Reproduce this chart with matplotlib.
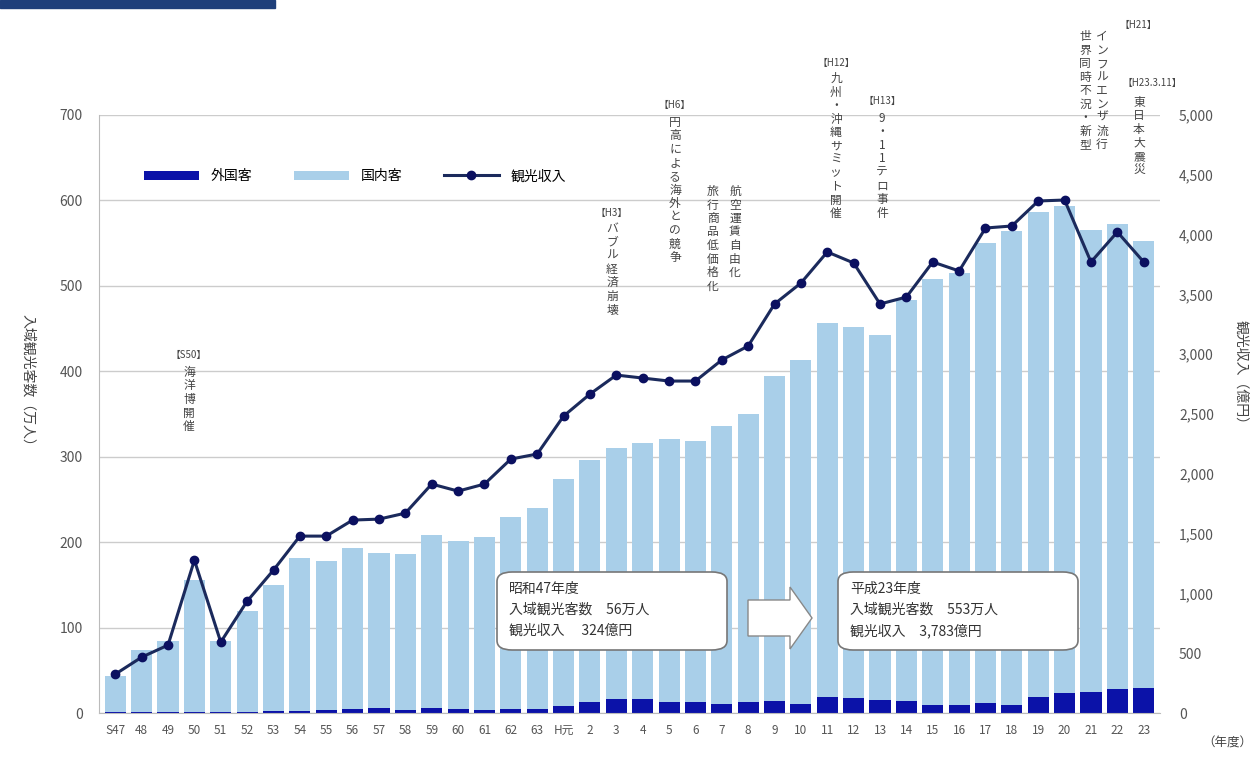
import numpy as np
import matplotlib.pyplot as plt
from matplotlib.patches import FancyBboxPatch, FancyArrow, Rectangle

plt.rcParams['font.family'] = ['Noto Sans CJK JP', 'DejaVu Sans']

# 年度ラベル
years = ['S47', '48', '49', '50', '51', '52', '53', '54', '55', '56', '57', '58',
         '59', '60', '61', '62', '63', 'H元', '2', '3', '4', '5', '6', '7', '8',
         '9', '10', '11', '12', '13', '14', '15', '16', '17', '18', '19', '20',
         '21', '22', '23']

# 入域観光客数 合計（万人）
total = [44, 74, 84, 156, 84, 120, 150, 181, 178, 193, 187, 186, 208, 201, 206,
         230, 240, 274, 296, 310, 316, 321, 318, 336, 350, 395, 413, 456, 452,
         443, 483, 508, 515, 550, 564, 587, 594, 565, 572, 553]

# 外国客（万人）
foreign = [1, 1, 1, 1, 1, 1, 2, 3, 4, 5, 6, 4, 6, 5, 4, 5, 5, 8, 13, 17, 17,
           13, 13, 11, 13, 14, 11, 19, 18, 16, 14, 9, 10, 12, 9, 19, 24, 25,
           28, 30]

# 観光収入（億円）
income = [326, 468, 569, 1279, 594, 936, 1196, 1480, 1480, 1614, 1622, 1672,
          1915, 1856, 1915, 2124, 2166, 2483, 2667, 2826, 2801, 2776, 2776,
          2952, 3069, 3420, 3595, 3855, 3763, 3420, 3478, 3771, 3696, 4055,
          4072, 4281, 4289, 3771, 4022, 3771]

domestic = np.array(total) - np.array(foreign)
x = np.arange(len(years))

fig = plt.figure(figsize=(12.59, 7.82), dpi=100)
ax = fig.add_axes([0.079, 0.088, 0.842, 0.765])
ax2 = ax.twinx()

ax.bar(x, foreign, width=0.8, color='#0b12a8', label='外国客', zorder=2)
ax.bar(x, domestic, width=0.8, bottom=foreign, color='#a9cfe9', label='国内客', zorder=2)
ax2.plot(x, income, color='#1b2a5c', lw=2.2, marker='o', ms=6,
         mfc='#0b1060', mec='#0b1060', label='観光収入', zorder=3)

ax.set_ylim(0, 700)
ax2.set_ylim(0, 5000)
ax.set_xlim(-0.6, len(years) - 0.4)
ax.set_yticks(range(0, 701, 100))
ax2.set_yticks(range(0, 5001, 500))
ax2.set_yticklabels(['0'] + ['{:,}'.format(v) for v in range(500, 5001, 500)])
ax.set_xticks(x)
ax.set_xticklabels(years, fontsize=8.5, color='#555555')
ax.tick_params(axis='y', labelsize=10, colors='#555555', length=0, pad=12)
ax2.tick_params(axis='y', labelsize=10, colors='#555555', length=0, pad=14)
ax.tick_params(axis='x', length=0, pad=8)
ax.grid(axis='y', color='#cccccc', lw=1, zorder=0)
ax.set_axisbelow(True)
for s in ['top', 'right']:
    ax.spines[s].set_visible(False)
    ax2.spines[s].set_visible(False)
ax.spines['left'].set_color('#bbbbbb')
ax.spines['bottom'].set_color('#bbbbbb')
ax2.spines['left'].set_visible(False)
ax2.spines['bottom'].set_visible(False)

fig.text(0.022, 0.51, '入域観光客数（万人）', rotation=-90, fontsize=10,
         color='#444444', ha='center', va='center', rotation_mode='anchor')
fig.text(0.986, 0.52, '観光収入（億円）', rotation=-90, fontsize=10,
         color='#444444', ha='center', va='center', rotation_mode='anchor')
fig.text(0.975, 0.045, '（年度）', fontsize=9, color='#444444', ha='center')

h1, l1 = ax.get_legend_handles_labels()
h2, l2 = ax2.get_legend_handles_labels()
ax.legend(h1 + h2, l1 + l2, loc='upper left', bbox_to_anchor=(0.03, 0.93),
          ncol=3, frameon=False, fontsize=10, handlelength=4, columnspacing=3)

# 出来事の注記（縦書き）
def vtext(xpix, ypix, s, size=8.5):
    fig.text(xpix / 1259, 1 - ypix / 782, '\n'.join(s), fontsize=size,
             color='#444444', ha='center', va='top', linespacing=1.05)

def tag(xpix, ypix, s):
    fig.text(xpix / 1259, 1 - ypix / 782, s, fontsize=7, color='#444444',
             ha='center', va='top')

tag(189, 350, '【S50】')
vtext(189, 366, '海洋博開催')
tag(612, 208, '【H3】')
vtext(612, 222, 'バブル経済崩壊')
tag(675, 100, '【H6】')
vtext(675, 116, '円高による海外との競争')
vtext(713, 185, '旅行商品低価格化')
vtext(735, 185, '航空運賃自由化')
tag(836, 58, '【H12】')
vtext(836, 72, '九州・沖縄サミット開催')
tag(882, 96, '【H13】')
vtext(882, 112, '9・11テロ事件')
vtext(1085, 30, '世界同時不況・新型')
vtext(1102, 30, 'インフルエンザ流行')
tag(1138, 20, '【H21】')
tag(1152, 78, '【H23.3.11】')
vtext(1139, 96, '東日本大震災')

# 比較ボックス
def box(x0, y0, w, h, lines):
    p = FancyBboxPatch((x0 / 1259, 1 - (y0 + h) / 782), w / 1259, h / 782,
                       boxstyle='round,pad=0,rounding_size=0.012',
                       transform=fig.transFigure, fc='white', ec='#777777',
                       lw=1.2, zorder=5)
    fig.patches.append(p)
    for i, s in enumerate(lines):
        fig.text((x0 + 12) / 1259, 1 - (y0 + 10 + i * 21) / 782, s,
                 fontsize=10, color='#333333', ha='left', va='top', zorder=6)

box(497, 572, 230, 78, ['昭和47年度', '入域観光客数　56万人', '観光収入　 324億円'])
box(838, 572, 240, 78, ['平成23年度', '入域観光客数　553万人', '観光収入　3,783億円'])

arr = FancyArrow(748 / 1259, 1 - 618 / 782, 42 / 1259, 0, width=36 / 782,
                 head_width=62 / 782, head_length=22 / 1259,
                 length_includes_head=False, transform=fig.transFigure,
                 fc='white', ec='#888888', lw=1, zorder=5)
fig.patches.append(arr)

# 左上の帯
fig.patches.append(Rectangle((0, 1 - 8 / 782), 275 / 1259, 8 / 782,
                             transform=fig.transFigure, color='#1f3f7a'))

fig.savefig('out.png', dpi=100)
